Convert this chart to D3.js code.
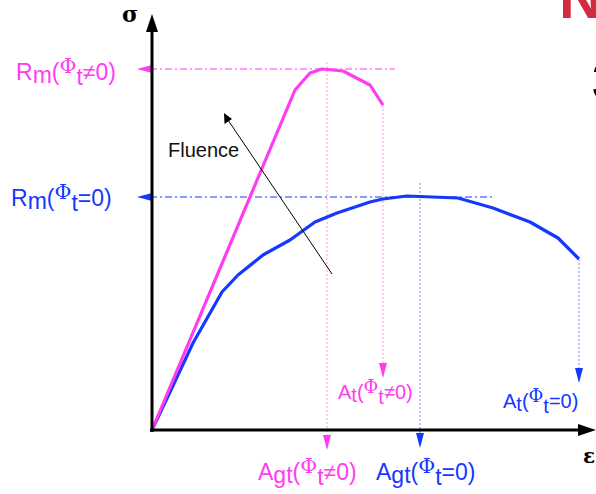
<!DOCTYPE html>
<html>
<head>
<meta charset="utf-8">
<script src="https://cdn.jsdelivr.net/npm/d3@7"></script>
<style>
  body { margin: 0; background: #fff; overflow: hidden; }
  text { font-family: "Liberation Sans", Arial, sans-serif; }
</style>
</head>
<body>
<script>
// strain (arb. units) / stress (arb. units)
var irradiatedStrain = [0, 14.3, 15.8, 17.0, 19.1, 21.8, 23.1];
var irradiatedStress = [0, 680, 714, 722, 718, 690, 650];
var unirradStrain = [0, 1.8, 4.1, 7.0, 8.6, 11.1, 13.8, 16.3, 18.5, 21.8, 23.1, 25.5, 30.6, 34.1, 37.8, 40.6, 42.7];
var unirradStress = [0, 76, 174, 276, 310, 350, 380, 416, 434, 456, 462, 468, 464, 444, 416, 384, 342];
// characteristic points
var rmValues = [722, 466];          // Rm irradiated, Rm unirradiated
var agtValues = [17.5, 26.8];       // Agt irradiated, Agt unirradiated
var atValues = [23.1, 42.7];        // At irradiated, At unirradiated
var pink = "#ff3cf0", blue = "#1438ff";

var width = 596, height = 494;
var svg = d3.select("body").append("svg")
  .attr("width", width).attr("height", height);

// axes scales
var x = d3.scaleLinear().domain([0, 44]).range([152, 592]);
var y = d3.scaleLinear().domain([0, 830]).range([430, 15]);

// helper for filled triangles
function tri(pts, color) {
  svg.append("path").attr("d", "M" + pts.join("L") + "Z").attr("fill", color);
}

// Rm horizontal dash-dot lines
[[rmValues[0], 395, pink], [rmValues[1], 492, blue]].forEach(function (r) {
  svg.append("line")
    .attr("x1", x(0) - 2).attr("x2", r[1])
    .attr("y1", y(r[0])).attr("y2", y(r[0]))
    .attr("stroke", r[2]).attr("stroke-width", 1)
    .attr("stroke-dasharray", "7,3,2,3");
  tri([[x(0) - 15, y(r[0])], [x(0), y(r[0]) - 4], [x(0), y(r[0]) + 4]], r[2]);
});

// vertical dotted lines (Agt / At)
function vline(xv, y1, y2, color, lc) {
  svg.append("line")
    .attr("x1", x(xv)).attr("x2", x(xv))
    .attr("y1", y1).attr("y2", y2 - 14)
    .attr("stroke", lc).attr("stroke-width", 1)
    .attr("stroke-dasharray", "2,2");
  tri([[x(xv) - 4, y2 - 15], [x(xv) + 4, y2 - 15], [x(xv), y2]], color);
}
vline(agtValues[0], 62, 450, pink, "#ff99f4");
vline(atValues[0], y(650), 378, pink, "#ff99f4");
vline(agtValues[1], 183, 448, blue, "#6f86ff");
vline(atValues[1], y(342), 383, blue, "#6f86ff");

// curves
var line = d3.line().x(function (d) { return x(d[0]); }).y(function (d) { return y(d[1]); });
svg.append("path")
  .datum(d3.zip(unirradStrain, unirradStress))
  .attr("d", line).attr("fill", "none")
  .attr("stroke", blue).attr("stroke-width", 3.2).attr("stroke-linejoin", "round");
svg.append("path")
  .datum(d3.zip(irradiatedStrain, irradiatedStress))
  .attr("d", line).attr("fill", "none")
  .attr("stroke", pink).attr("stroke-width", 3.2).attr("stroke-linejoin", "round");

// axes
svg.append("line").attr("x1", x(0)).attr("x2", x(0)).attr("y1", y(0) + 2).attr("y2", 30)
  .attr("stroke", "#000").attr("stroke-width", 3);
tri([[x(0) - 6, 32], [x(0) + 6, 32], [x(0), 14]], "#000");
svg.append("line").attr("x1", x(0) - 2).attr("x2", 580).attr("y1", y(0)).attr("y2", y(0))
  .attr("stroke", "#000").attr("stroke-width", 3);
tri([[578, y(0) - 6], [578, y(0) + 6], [596, y(0)]], "#000");

svg.append("text").attr("x", 130).attr("y", 22).attr("text-anchor", "middle")
  .style("font-family", "'DejaVu Serif', serif").style("font-size", "22px")
  .style("font-weight", "bold").text("σ");
svg.append("text").attr("x", 589).attr("y", 463).attr("text-anchor", "middle")
  .style("font-family", "'DejaVu Serif', serif").style("font-size", "20px")
  .style("font-weight", "bold").text("ε");

// Fluence arrow
svg.append("line").attr("x1", 332).attr("y1", 274).attr("x2", 228).attr("y2", 120)
  .attr("stroke", "#000").attr("stroke-width", 1);
tri([[224, 113], [224.5, 124], [232, 119]], "#000");
svg.append("text").attr("x", 168).attr("y", 157).style("font-size", "20px")
  .attr("fill", "#111").text("Fluence");

// labels: base, sub, sym
function label(xp, yp, size, color, base, sub, rest) {
  var t = svg.append("text").attr("x", xp).attr("y", yp)
    .style("font-size", size + "px").attr("fill", color);
  t.append("tspan").text(base);
  t.append("tspan").attr("dy", size * 0.15).text(sub);
  t.append("tspan").attr("dy", -size * 0.15).text("(");
  t.append("tspan").attr("dy", -size * 0.32).style("font-size", (size * 0.9) + "px")
    .style("font-family", "'DejaVu Serif', serif").text("Φ");
  t.append("tspan").attr("dy", size * 0.55).text("t");
  t.append("tspan").attr("dy", -size * 0.23).text(rest);
}
label(16, 80, 23, pink, "R", "m", "≠0)");
label(11, 206, 23, blue, "R", "m", "=0)");
label(338, 399, 20, pink, "A", "t", "≠0)");
label(503, 408, 20, blue, "A", "t", "=0)");
label(258, 480, 23, pink, "A", "gt", "≠0)");
label(376, 480, 23, blue, "A", "gt", "=0)");

// slide remnants at the right edge (cropped in the original too)
svg.append("text").attr("x", 559).attr("y", 18).style("font-size", "60px")
  .style("font-weight", "bold").attr("fill", "#d42a40").text("N");
svg.append("text").attr("x", 592).attr("y", 100).style("font-size", "56px")
  .style("font-weight", "bold").attr("fill", "#000").text("3");
</script>
</body>
</html>
